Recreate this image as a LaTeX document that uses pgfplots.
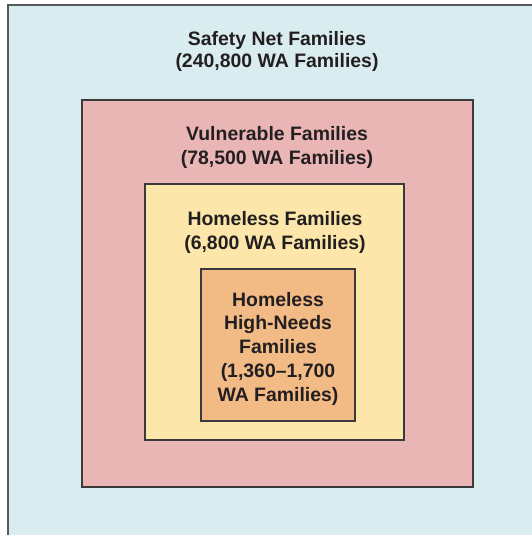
\documentclass[border=0pt]{standalone}
\usepackage{pgfplots}
\pgfplotsset{compat=1.18}
\usepackage{fontspec}
\setmainfont{Liberation Sans}
\definecolor{cOut}{HTML}{D9ECEF}
\definecolor{cPink}{HTML}{E9B5B5}
\definecolor{cYel}{HTML}{FCE6A9}
\definecolor{cOra}{HTML}{F2BB86}
\definecolor{cLine}{HTML}{3A3A3A}
\definecolor{cTxt}{HTML}{231F20}
\begin{document}
\begin{tikzpicture}
\begin{axis}[
  at={(0,0)}, anchor=south west,
  width=532bp, height=535bp, scale only axis,
  xmin=0, xmax=532, ymin=0, ymax=535, y dir=reverse,
  hide axis, clip=true,
]
\addplot[fill=cOut, draw=none] coordinates {(8,5) (532,5) (532,535) (8,535)} --cycle;
\addplot[draw=cLine!85, line width=1.6bp] coordinates {(8,535) (8,5) (532,5)};
\addplot[fill=cPink, draw=cLine, line width=1.4bp] coordinates {(82,100) (473,100) (473,487) (82,487)} --cycle;
\addplot[fill=cYel, draw=cLine, line width=1.4bp] coordinates {(145,184) (404,184) (404,440) (145,440)} --cycle;
\addplot[fill=cOra, draw=cLine, line width=1.4bp] coordinates {(201,269) (355,269) (355,421) (201,421)} --cycle;
\tikzset{lab/.style={anchor=base, font=\fontsize{19.5}{22}\selectfont\bfseries, text=cTxt, inner sep=0pt}}
\node[lab] at (axis cs:277,46) {Safety Net Families};
\node[lab] at (axis cs:277,68) {(240,800 WA Families)};
\node[lab] at (axis cs:277,140) {Vulnerable Families};
\node[lab] at (axis cs:277,164) {(78,500 WA Families)};
\node[lab] at (axis cs:275,225) {Homeless Families};
\node[lab] at (axis cs:275,249) {(6,800 WA Families)};
\node[lab] at (axis cs:278,306) {Homeless};
\node[lab] at (axis cs:278,329) {High-Needs};
\node[lab] at (axis cs:278,353) {Families};
\node[lab] at (axis cs:278,377) {(1,360--1,700};
\node[lab] at (axis cs:278,401) {WA Families)};
\end{axis}
\pgfresetboundingbox
\path (0,0) rectangle (532bp,535bp);
\end{tikzpicture}
\end{document}
